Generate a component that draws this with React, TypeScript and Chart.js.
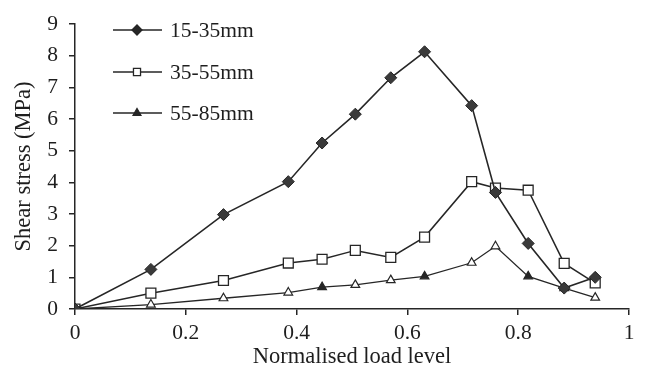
import React, { useEffect, useRef } from "react";
import { Chart, registerables } from "chart.js";
import { drawPoint } from "chart.js/helpers";

Chart.register(...registerables);

const loadLevels = [0, 0.137, 0.268, 0.385, 0.446, 0.506, 0.57, 0.631, 0.716, 0.759, 0.818, 0.883, 0.939];
const stress15to35 = [0, 1.25, 2.98, 4.02, 5.24, 6.15, 7.3, 8.12, 6.42, 3.68, 2.07, 0.66, 1.0];
const stress35to55 = [0, 0.5, 0.9, 1.45, 1.57, 1.85, 1.63, 2.27, 4.02, 3.82, 3.75, 1.44, 0.82];
const stress55to85 = [0, 0.14, 0.34, 0.52, 0.69, 0.76, 0.91, 1.03, 1.46, 1.98, 1.03, 0.66, 0.36];
const seriesLabels = ["15-35mm", "35-55mm", "55-85mm"];
const triangleFilled = [true, false, false, false, true, false, false, true, false, false, true, true, false];
const xTitle = "Normalised load level";
const yTitle = "Shear stress (MPa)";

const INK = "#262626";
const TEXT = "#1e1e1e";
const FONT = "'Liberation Serif', 'DejaVu Serif', serif";

const toPoints = (ys: number[]) => ys.map((y, i) => ({ x: loadLevels[i], y }));

const legendPlugin = {
  id: "customLegend",
  afterDraw(chart: any) {
    const ctx = chart.ctx as CanvasRenderingContext2D;
    const rows = [30, 72, 113];
    const styles = [
      { pointStyle: "rectRot", radius: 5, fill: INK },
      { pointStyle: "rect", radius: 5, fill: "#ffffff" },
      { pointStyle: "triangle", radius: 4.5, fill: INK },
    ];
    ctx.save();
    chart.data.datasets.forEach((ds: any, i: number) => {
      const y = rows[i];
      ctx.strokeStyle = INK;
      ctx.lineWidth = 1.5;
      ctx.beginPath();
      ctx.moveTo(113, y);
      ctx.lineTo(162, y);
      ctx.stroke();
      ctx.fillStyle = styles[i].fill;
      ctx.strokeStyle = INK;
      ctx.lineWidth = 1.3;
      drawPoint(ctx, { pointStyle: styles[i].pointStyle as any, radius: styles[i].radius, borderWidth: 1.3, rotation: 0 }, 137, y);
      ctx.fillStyle = TEXT;
      ctx.font = `21.5px ${FONT}`;
      ctx.textAlign = "left";
      ctx.textBaseline = "middle";
      ctx.fillText(ds.label, 170, y + 1);
    });
    ctx.restore();
  },
};

export default function App() {
  const canvasRef = useRef<HTMLCanvasElement | null>(null);

  useEffect(() => {
    if (!canvasRef.current) return;
    const chart = new Chart(canvasRef.current, {
      type: "line",
      data: {
        datasets: [
          {
            label: seriesLabels[0],
            data: toPoints(stress15to35),
            borderColor: INK,
            borderWidth: 1.6,
            pointStyle: "rectRot",
            pointRadius: 6,
            pointBackgroundColor: "#3a3a3a",
            pointBorderColor: INK,
            pointBorderWidth: 1,
            tension: 0,
          },
          {
            label: seriesLabels[1],
            data: toPoints(stress35to55),
            borderColor: INK,
            borderWidth: 1.5,
            pointStyle: "rect",
            pointRadius: 7,
            pointBackgroundColor: "#ffffff",
            pointBorderColor: INK,
            pointBorderWidth: 1.3,
            tension: 0,
          },
          {
            label: seriesLabels[2],
            data: toPoints(stress55to85),
            borderColor: INK,
            borderWidth: 1.3,
            pointStyle: "triangle",
            pointRadius: 5,
            pointBackgroundColor: triangleFilled.map((f) => (f ? INK : "#ffffff")),
            pointBorderColor: INK,
            pointBorderWidth: 1.2,
            tension: 0,
          },
        ],
      },
      options: {
        responsive: false,
        animation: false,
        layout: { padding: { top: 9, right: 16, bottom: 0, left: 0 } },
        plugins: { legend: { display: false }, tooltip: { enabled: false } },
        scales: {
          x: {
            type: "linear",
            min: 0,
            max: 1,
            ticks: {
              stepSize: 0.2,
              color: TEXT,
              font: { family: FONT, size: 21.5 },
              padding: 5,
              callback: (v: any) => String(Math.round(Number(v) * 10) / 10),
            },
            grid: { drawOnChartArea: false, drawTicks: true, tickLength: 6, color: INK, lineWidth: 1.5 },
            border: { color: INK, width: 1.5 },
            title: { display: true, text: xTitle, color: TEXT, font: { family: FONT, size: 22.5 }, padding: { top: 0, bottom: 0 } },
            afterFit: (s: any) => {
              s.height = 62;
            },
          },
          y: {
            type: "linear",
            min: 0,
            max: 9,
            ticks: { stepSize: 1, color: TEXT, font: { family: FONT, size: 21.5 }, padding: 11 },
            grid: { drawOnChartArea: false, drawTicks: true, tickLength: 6, color: INK, lineWidth: 1.5 },
            border: { color: INK, width: 1.5 },
            title: { display: true, text: yTitle, color: TEXT, font: { family: FONT, size: 22.5 }, padding: { top: 11, bottom: 0 } },
            afterFit: (s: any) => {
              s.width = 75;
            },
          },
        },
      },
      plugins: [legendPlugin],
    });
    return () => chart.destroy();
  }, []);

  return (
    <div style={{ position: "absolute", left: 0, top: 0, width: 645, height: 371, background: "#ffffff" }}>
      <canvas ref={canvasRef} width={645} height={371} style={{ display: "block" }} />
    </div>
  );
}
